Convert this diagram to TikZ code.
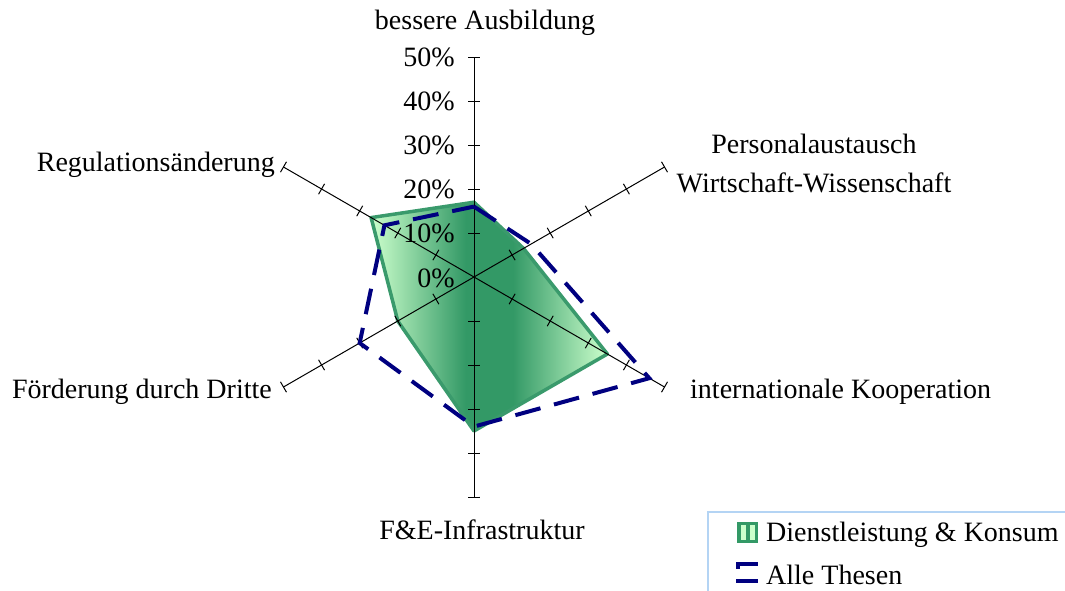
\documentclass[tikz,border=0pt]{standalone}
\usepackage{fontspec}
\setmainfont{Liberation Serif}
\usepackage{tikz}

\definecolor{dlgreen}{HTML}{339966}
\definecolor{dllight}{HTML}{CCFFCC}
\definecolor{dledge}{HTML}{3A9A6C}
\definecolor{thesenblue}{HTML}{000080}
\definecolor{legframe}{HTML}{B4D4F4}

\pgfdeclarehorizontalshading{dlshade}{100bp}{color(0bp)=(dllight); color(25bp)=(dllight); color(45bp)=(dlgreen); color(55bp)=(dlgreen); color(75bp)=(dllight); color(100bp)=(dllight)}

\tikzset{
  lbl/.style={inner sep=0pt, font=\fontsize{28}{39}\selectfont},
  pct/.style={lbl, anchor=east, xshift=-19pt},
  radaxis/.style={black, line width=1pt,
    postaction={draw, line width=12pt, shorten <=43.5pt, shorten >=-0.5pt,
      dash pattern=on 1pt off 43pt}},
  dlline/.style={dledge, line width=3.5pt, line join=round},
  thesen/.style={thesenblue, line width=4pt, dash pattern=on 26pt off 14pt}
}

\begin{document}
\begin{tikzpicture}[x=1pt,y=1pt]
  \useasboundingbox (-474,-313) rectangle (591,277);

  \begin{scope}[x=4.4pt,y=4.4pt]
    \shade[shading=dlshade]
      (90:17) -- (30:13) -- (-30:35) -- (-90:35) -- (210:20) -- (150:27) -- cycle;
    \draw[dlline]
      (90:17) -- (30:13) -- (-30:35) -- (-90:35) -- (210:20) -- (150:27) -- cycle;

    \draw[radaxis] (0,0) -- (90:50);
    \draw[radaxis] (0,0) -- (30:50);
    \draw[radaxis] (0,0) -- (-30:50);
    \draw[radaxis] (0,0) -- (-90:50);
    \draw[radaxis] (0,0) -- (210:50);
    \draw[radaxis] (0,0) -- (150:50);

    \draw[thesen]
      (90:16) -- (30:15) -- (-30:46) -- (-90:34) -- (210:30) -- (150:23.5) -- cycle;

    \node[pct] (p0) at (0,-0.2) {0\%};
    \node[pct] (p10) at (0,10) {10\%};
    \node[pct] (p20) at (0,20) {20\%};
    \node[pct] (p30) at (0,30) {30\%};
    \node[pct] (p40) at (0,40) {40\%};
    \node[pct] (p50) at (0,50) {50\%};
  \end{scope}

  \node[lbl] (ausbildung) at (11,254) {bessere Ausbildung};
  \node[lbl, align=center] (personal) at (340,114) {Personalaustausch\\Wirtschaft-Wissenschaft};
  \node[lbl, anchor=west] (koop) at (216,-115) {internationale Kooperation};
  \node[lbl] (infra) at (8,-253) {F\&E-Infrastruktur};
  \node[lbl, anchor=east] (foerderung) at (-202,-115) {Förderung durch Dritte};
  \node[lbl, anchor=east] (regulation) at (-199,112) {Regulationsänderung};

  \draw[legframe, line width=1.5pt] (600,-235) -- (234,-235) -- (234,-320);
  \fill[dlgreen] (263,-266) rectangle (284,-245);
  \fill[dllight] (267,-263) rectangle (272,-248);
  \fill[dllight] (276,-263) rectangle (281,-248);
  \node[lbl, anchor=west] (legdl) at (292,-258) {Dienstleistung \& Konsum};
  \draw[thesenblue, line width=3.5pt] (262,-287) -- (284,-287);
  \draw[thesenblue, line width=3.5pt] (262,-304) -- (284,-304);
  \draw[thesenblue, line width=3.5pt] (263.75,-287) -- (263.75,-292);
  \node[lbl, anchor=west] (legalle) at (292,-298) {Alle Thesen};
\end{tikzpicture}
\end{document}
